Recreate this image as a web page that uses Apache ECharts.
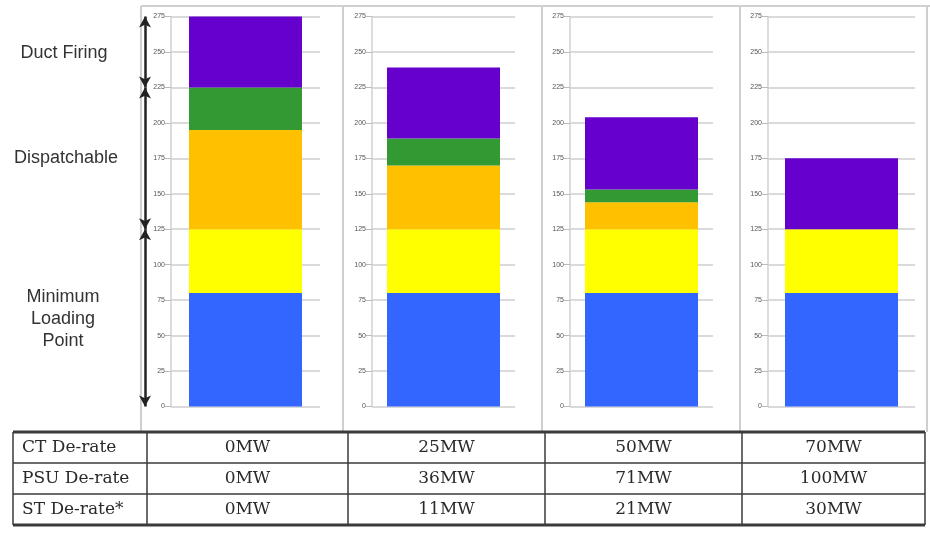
<!DOCTYPE html>
<html>
<head>
<meta charset="utf-8">
<script src="https://cdn.jsdelivr.net/npm/echarts@6/dist/echarts.min.js"></script>
<style>
html,body{margin:0;padding:0;background:#fff;}
#c{width:930px;height:535px;}
</style>
</head>
<body>
<div id="c"></div>
<script>
// ---- data ----
const panels = ['Case 1', 'Case 2', 'Case 3', 'Case 4'];
const minLoadBlue = [80, 80, 80, 80];
const minLoadYellow = [45, 45, 45, 45];
const dispatchOrange = [70, 45, 19, 0];
const dispatchGreen = [30, 19, 9, 0];
const ductFiringPurple = [50, 50, 51, 50];
const yTicks = [0, 25, 50, 75, 100, 125, 150, 175, 200, 225, 250, 275];
const bandBounds = [0, 125, 225, 275];
const bandLabels = ['Minimum\nLoading\nPoint', 'Dispatchable', 'Duct Firing'];
const rowLabels = ['CT De-rate', 'PSU De-rate', 'ST De-rate*'];
const ctDerate = [0, 25, 50, 70];
const psuDerate = [0, 36, 71, 100];
const stDerate = [0, 11, 21, 30];

// ---- layout ----
const gridLefts = [171, 372, 570, 768];
const gridWidths = [149, 143, 143, 147];
const gridTop = 16.5, gridHeight = 390;
const layers = [
  {vals: minLoadBlue, color: '#3366ff'},
  {vals: minLoadYellow, color: '#ffff00'},
  {vals: dispatchOrange, color: '#ffc000'},
  {vals: dispatchGreen, color: '#339933'},
  {vals: ductFiringPurple, color: '#6600cc'}
];

const grids = [], xAxes = [], yAxes = [], series = [];
panels.forEach((p, i) => {
  grids.push({left: gridLefts[i], width: gridWidths[i], top: gridTop, height: gridHeight});
  xAxes.push({type: 'category', gridIndex: i, data: [p], show: false});
  yAxes.push({
    type: 'value', gridIndex: i, min: yTicks[0], max: yTicks[yTicks.length - 1], interval: yTicks[1] - yTicks[0],
    axisLine: {show: true, lineStyle: {color: '#d0d0d0', width: 1.5}},
    axisTick: {show: true, length: 6, lineStyle: {color: '#bbbbbb'}},
    axisLabel: {fontSize: 7, color: '#555', margin: 6, fontFamily: 'Liberation Sans'},
    splitLine: {show: true, lineStyle: {color: '#dadada', width: 2}}
  });
  layers.forEach((l, k) => {
    series.push({
      type: 'bar', xAxisIndex: i, yAxisIndex: i, stack: 's' + i,
      barWidth: 113, data: [l.vals[i]], itemStyle: {color: l.color},
      silent: true, animation: false
    });
  });
});

// arrow annotation grid (shares the 0..275 scale of the first panel)
const ai = panels.length;
grids.push({left: 140, width: 10, top: gridTop, height: gridHeight});
xAxes.push({type: 'value', gridIndex: ai, min: 0, max: 1, show: false});
yAxes.push({type: 'value', gridIndex: ai, min: yTicks[0], max: yTicks[yTicks.length - 1], show: false});
const arrowLines = [];
for (let k = 0; k < bandBounds.length - 1; k++) {
  arrowLines.push([{coord: [0.5, bandBounds[k]]}, {coord: [0.5, bandBounds[k + 1]]}]);
}
series.push({
  type: 'line', xAxisIndex: ai, yAxisIndex: ai, data: [], silent: true, animation: false,
  markLine: {
    silent: true, animation: false,
    symbol: ['arrow', 'arrow'], symbolSize: [9, 11],
    label: {show: false},
    lineStyle: {color: '#222', width: 2.5, type: 'solid'},
    data: arrowLines
  }
});

// ---- graphic: panel frames, band labels, table ----
const graphic = [];
const frameColor = '#cfcfcf';
graphic.push({type: 'line', shape: {x1: 141, y1: 6, x2: 930, y2: 6}, style: {stroke: frameColor, lineWidth: 2}, silent: true});
[141, 343, 542, 740, 927].forEach(x => {
  graphic.push({type: 'line', shape: {x1: x, y1: 6, x2: x, y2: 432}, style: {stroke: frameColor, lineWidth: 2}, silent: true});
});

const bandLabelPos = [{x: 63, y: 319}, {x: 66, y: 158}, {x: 64, y: 53}];
bandLabels.forEach((t, k) => {
  graphic.push({type: 'text', x: bandLabelPos[k].x, y: bandLabelPos[k].y, silent: true,
    style: {text: t, fill: '#333', font: '18px "Liberation Sans"', textAlign: 'center', textVerticalAlign: 'middle', lineHeight: 22}});
});

// table
const colX = [13, 147, 348, 545, 742, 925];
const rowY = [432, 463, 494, 525];
const tableVals = [ctDerate, psuDerate, stDerate];
const tStroke = '#3a3a3a';
graphic.push({type: 'line', shape: {x1: colX[0], y1: rowY[0], x2: colX[5], y2: rowY[0]}, style: {stroke: tStroke, lineWidth: 3}, silent: true});
graphic.push({type: 'line', shape: {x1: colX[0], y1: rowY[3], x2: colX[5], y2: rowY[3]}, style: {stroke: tStroke, lineWidth: 3}, silent: true});
for (let r = 1; r < rowY.length - 1; r++) {
  graphic.push({type: 'line', shape: {x1: colX[0], y1: rowY[r], x2: colX[5], y2: rowY[r]}, style: {stroke: tStroke, lineWidth: 1.5}, silent: true});
}
colX.forEach(x => {
  graphic.push({type: 'line', shape: {x1: x, y1: rowY[0], x2: x, y2: rowY[3]}, style: {stroke: tStroke, lineWidth: 1.5}, silent: true});
});
rowLabels.forEach((lab, r) => {
  const cy = (rowY[r] + rowY[r + 1]) / 2;
  graphic.push({type: 'text', x: 22, y: cy, silent: true,
    style: {text: lab, fill: '#2a2a2a', font: '17px "DejaVu Serif"', textAlign: 'left', textVerticalAlign: 'middle'}});
  tableVals[r].forEach((v, c) => {
    graphic.push({type: 'text', x: (colX[c + 1] + colX[c + 2]) / 2, y: cy, silent: true,
      style: {text: v + 'MW', fill: '#2a2a2a', font: '17px "DejaVu Serif"', textAlign: 'center', textVerticalAlign: 'middle'}});
  });
});

const chart = echarts.init(document.getElementById('c'), null, {renderer: 'canvas'});
chart.setOption({
  animation: false,
  backgroundColor: '#ffffff',
  grid: grids, xAxis: xAxes, yAxis: yAxes, series: series, graphic: graphic
});
</script>
</body>
</html>
